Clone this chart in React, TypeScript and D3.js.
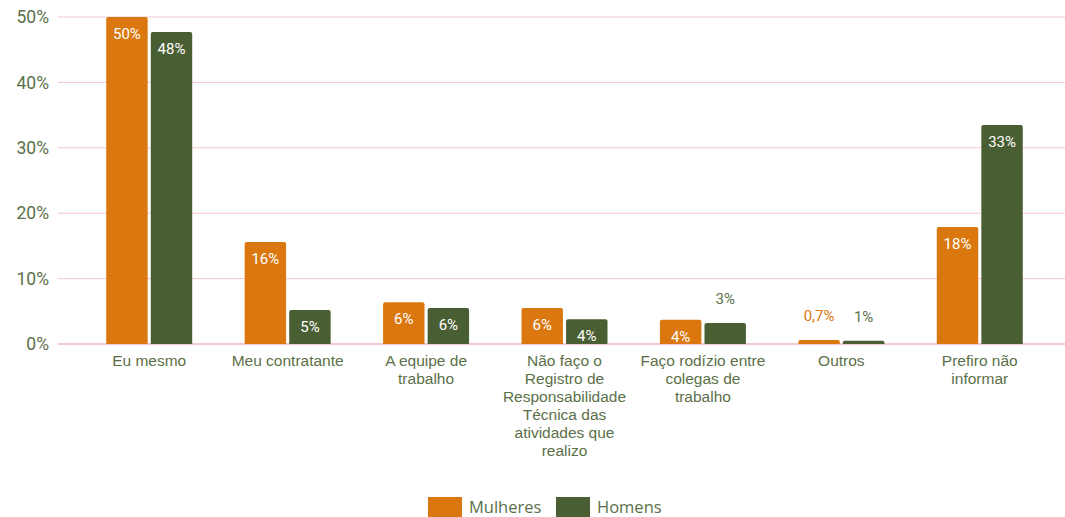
import React from "react";
import * as d3 from "d3";

const categories = [
  ["Eu mesmo"],
  ["Meu contratante"],
  ["A equipe de", "trabalho"],
  ["Não faço o", "Registro de", "Responsabilidade", "Técnica das", "atividades que", "realizo"],
  ["Faço rodízio entre", "colegas de", "trabalho"],
  ["Outros"],
  ["Prefiro não", "informar"],
];
const mulheres = [50, 15.6, 6.4, 5.5, 3.7, 0.6, 17.9];
const homens = [47.7, 5.2, 5.5, 3.8, 3.2, 0.5, 33.5];
const mulheresLabels = ["50%", "16%", "6%", "6%", "4%", "0,7%", "18%"];
const homensLabels = ["48%", "5%", "6%", "4%", "3%", "1%", "33%"];
const yTicks = [0, 10, 20, 30, 40, 50];

const ORANGE = "#DA780F";
const GREEN = "#4A5E33";
const TEXT = "#5B7049";
const GRID = "#F3C9CB";

export default function App() {
  const width = 1065;
  const height = 517;
  const y = d3.scaleLinear().domain([0, 50]).range([344, 17]);
  const x = d3
    .scaleBand<number>()
    .domain(d3.range(categories.length))
    .range([80, 1049]);
  const sub = d3.scaleBand<string>().domain(["m", "h"]).range([-43, 43]).paddingInner(0.07);

  const series = [
    { key: "m", values: mulheres, labels: mulheresLabels, color: ORANGE },
    { key: "h", values: homens, labels: homensLabels, color: GREEN },
  ];

  const barPath = (x0: number, w: number, top: number, bottom: number, r: number) => {
    const rr = Math.min(r, (bottom - top) / 2, w / 2);
    return `M${x0},${bottom}V${top + rr}Q${x0},${top} ${x0 + rr},${top}H${x0 + w - rr}Q${x0 + w},${top} ${x0 + w},${top + rr}V${bottom}Z`;
  };

  return (
    <svg
      width={width}
      height={height}
      style={{ position: "absolute", left: 0, top: 0 }}
      fontFamily="Roboto, sans-serif"
    >
      {yTicks.map((t) => (
        <g key={t}>
          <line
            x1={58}
            x2={1065}
            y1={y(t)}
            y2={y(t)}
            stroke={GRID}
            strokeWidth={t === 0 ? 2 : 1}
          />
          <text
            x={49}
            y={y(t)}
            dy="0.35em"
            textAnchor="end"
            fontSize={17.5}
            fill={TEXT}
          >
            {t}%
          </text>
        </g>
      ))}
      {categories.map((lines, i) => {
        const cx = x(i)! + x.bandwidth() / 2;
        return (
          <g key={i}>
            {series.map((s) => {
              const bx = cx + sub(s.key)!;
              const w = sub.bandwidth();
              const top = y(s.values[i]);
              const inside = s.values[i] >= 3.5;
              return (
                <g key={s.key}>
                  <path d={barPath(bx, w, top, y(0), 2)} fill={s.color} />
                  <text
                    x={bx + w / 2}
                    y={inside ? top + 17 : top - 24}
                    dy="0.35em"
                    textAnchor="middle"
                    fontSize={15}
                    fill={inside ? "#fff" : s.key === "m" ? ORANGE : TEXT}
                  >
                    {s.labels[i]}
                  </text>
                </g>
              );
            })}
            <text
              textAnchor="middle"
              fontSize={15.5}
              fontFamily="'Liberation Sans', Arial, sans-serif"
              fill={TEXT}
            >
              {lines.map((l, j) => (
                <tspan key={j} x={cx} y={366 + j * 18}>
                  {l}
                </tspan>
              ))}
            </text>
          </g>
        );
      })}
      <g fontFamily="'Open Sans', sans-serif" fontSize={16.5} fill={TEXT}>
        <rect x={428} y={497} width={34} height={20} fill={ORANGE} />
        <text x={469} y={507} dy="0.35em">Mulheres</text>
        <rect x={556} y={497} width={34} height={20} fill={GREEN} />
        <text x={597} y={507} dy="0.35em">Homens</text>
      </g>
    </svg>
  );
}
